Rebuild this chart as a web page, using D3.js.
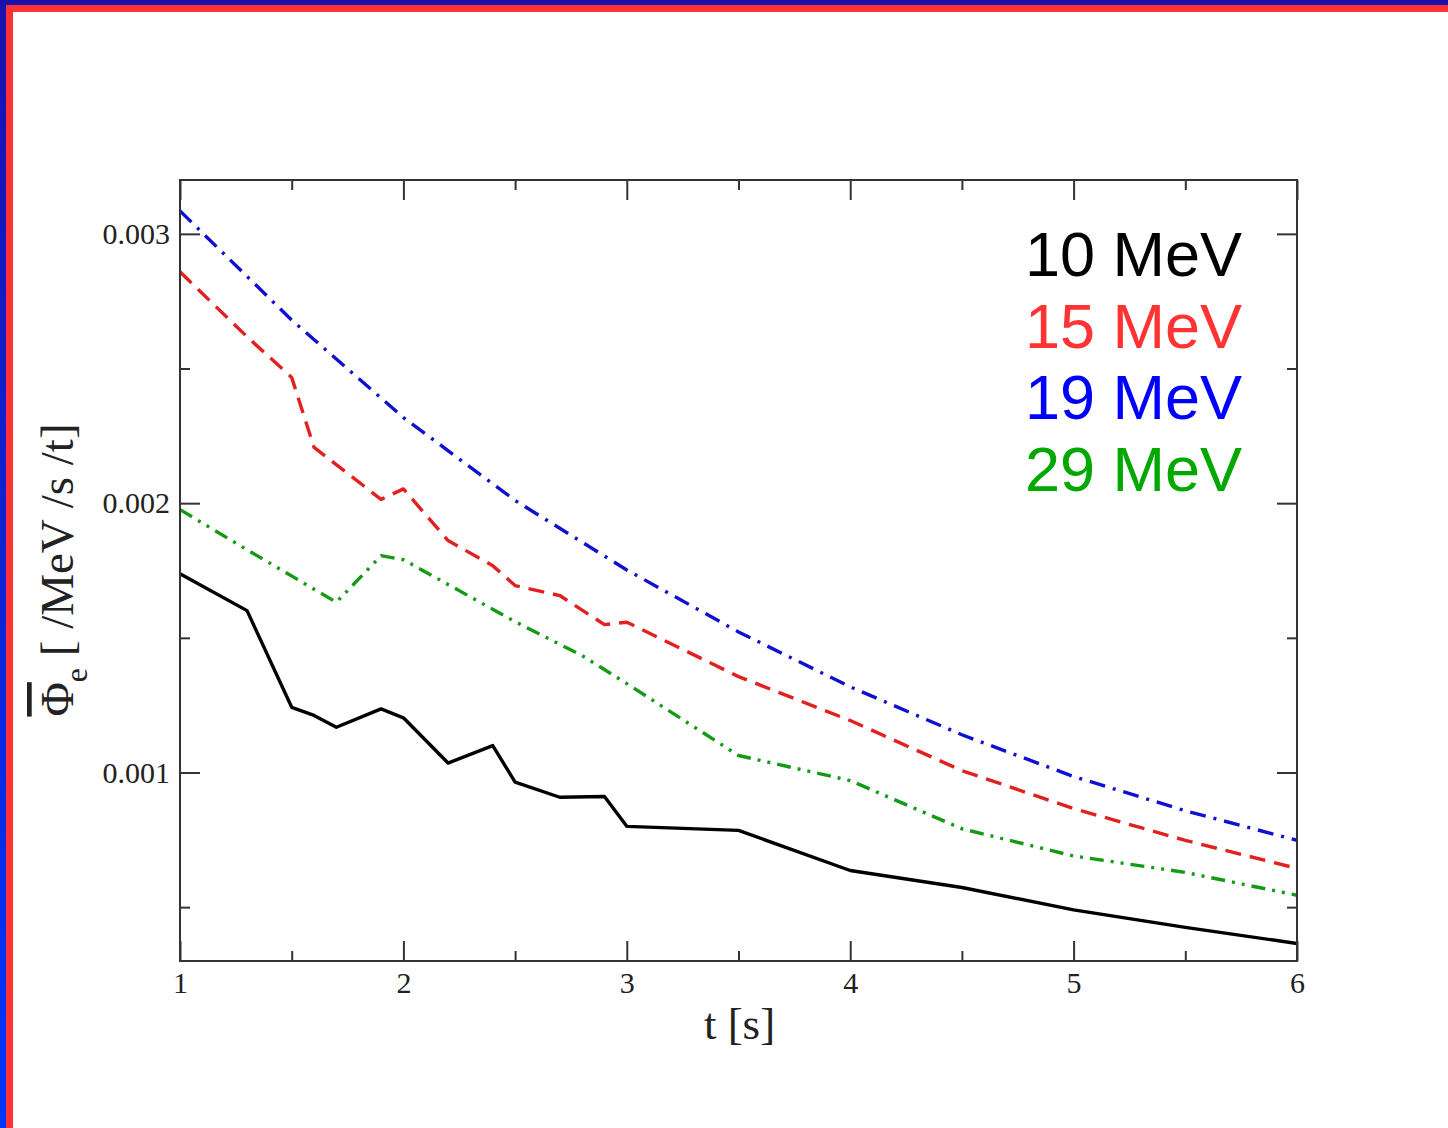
<!DOCTYPE html>
<html>
<head>
<meta charset="utf-8">
<script src="https://cdn.jsdelivr.net/npm/d3@7"></script>
<style>
  html, body { margin: 0; padding: 0; background: #fff; }
  svg { display: block; }
</style>
</head>
<body>
<svg id="chart" width="1448" height="1128"></svg>
<script>
// Time grid (s) for each energy, and the flux values read along them
const t10 = [1, 1.3, 1.5, 1.6, 1.7, 1.9, 2, 2.2, 2.4, 2.5, 2.7, 2.9, 3, 3.5, 4, 4.5, 5, 5.5, 6];
const flux10 = [0.001738, 0.001601, 0.001242, 0.001212, 0.001168, 0.001236, 0.001203, 0.001035, 0.001100,
                0.000964, 0.000908, 0.000911, 0.000800, 0.000785, 0.000636, 0.000573, 0.000490, 0.000425, 0.000365];

const t15 = [1, 1.3, 1.5, 1.6, 1.9, 2, 2.2, 2.4, 2.5, 2.7, 2.9, 3, 3.5, 4, 4.5, 5, 5.5, 6];
const flux15 = [0.002859, 0.002618, 0.002467, 0.002207, 0.002014, 0.002053, 0.001861, 0.001768, 0.001694,
                0.001657, 0.001549, 0.001558, 0.001356, 0.001193, 0.001007, 0.000866, 0.000748, 0.000644];

const t19 = [1, 1.5, 2, 2.5, 3, 3.5, 4, 4.5, 5, 5.5, 6];
const flux19 = [0.003085, 0.002680, 0.002318, 0.002010, 0.001752, 0.001522, 0.001318, 0.001140, 0.000985, 0.000858, 0.000748];

const t29 = [1, 1.3, 1.7, 1.9, 2, 2.5, 2.8, 3, 3.5, 4, 4.5, 5, 5.5, 6];
const flux29 = [0.001976, 0.001827, 0.001632, 0.001805, 0.001790, 0.001560, 0.001434, 0.001330, 0.001063,
                0.000970, 0.000791, 0.000690, 0.000629, 0.000544];

const seriesNames = ["10 MeV", "15 MeV", "19 MeV", "29 MeV"];
const xTickValues = [1, 2, 3, 4, 5, 6];
const xMinorValues = [1.5, 2.5, 3.5, 4.5, 5.5];
const yTickValues = [0.001, 0.002, 0.003];
const yMinorValues = [0.0005, 0.0015, 0.0025];

const svg = d3.select("#chart");
const W = 1448, H = 1128;

// Slide frame: blue outer band with a red inner band on the top and left edges
const defs = svg.append("defs");
const grad = defs.append("linearGradient").attr("id", "leftBlue")
  .attr("x1", 0).attr("y1", 0).attr("x2", 0).attr("y2", 1);
grad.append("stop").attr("offset", "0%").attr("stop-color", "#1a10ad");
grad.append("stop").attr("offset", "100%").attr("stop-color", "#0036ff");

svg.append("rect").attr("x", 0).attr("y", 0).attr("width", 6).attr("height", H).attr("fill", "url(#leftBlue)");
svg.append("rect").attr("x", 0).attr("y", 0).attr("width", W).attr("height", 5).attr("fill", "#1a10ad");
svg.append("rect").attr("x", 6).attr("y", 5).attr("width", W - 6).attr("height", 7).attr("fill", "#ff3333");
svg.append("rect").attr("x", 6).attr("y", 5).attr("width", 7).attr("height", H - 5).attr("fill", "#ff3333");

// Plot geometry
const plotL = 180, plotR = 1297, plotT = 180, plotB = 961;
const x = d3.scaleLinear().domain([1, 6]).range([plotL, plotR]);
const y = d3.scaleLinear().domain([0.0003, 0.0032]).range([plotB, plotT]);

const axisColor = "#333";
const serif = "'Liberation Serif', 'DejaVu Serif', serif";

// Curves (clipped to the plot box)
defs.append("clipPath").attr("id", "plotClip")
  .append("rect").attr("x", plotL).attr("y", plotT).attr("width", plotR - plotL).attr("height", plotB - plotT);

const line = d3.line().x(d => x(d[0])).y(d => y(d[1]));
const series = [
  { name: seriesNames[0], t: t10, v: flux10, color: "#000000", dash: null },
  { name: seriesNames[1], t: t15, v: flux15, color: "#e32020", dash: "16 9" },
  { name: seriesNames[2], t: t19, v: flux19, color: "#1010d0", dash: "16 8 3 8" },
  { name: seriesNames[3], t: t29, v: flux29, color: "#159a15", dash: "14 7 3 7 3 7" }
];

const curves = svg.append("g").attr("clip-path", "url(#plotClip)");
series.forEach(s => {
  curves.append("path")
    .datum(d3.zip(s.t, s.v))
    .attr("d", line)
    .attr("fill", "none")
    .attr("stroke", s.color)
    .attr("stroke-width", 3.4)
    .attr("stroke-linejoin", "round")
    .attr("stroke-dasharray", s.dash);
});

// Axes: ticks point inward on all four sides
function styleAxis(g) {
  g.select(".domain").remove();
  g.selectAll("line").attr("stroke", axisColor).attr("stroke-width", 2);
  g.selectAll("text").attr("fill", "#222").attr("font-family", serif).attr("font-size", 30);
}

svg.append("g").attr("transform", `translate(0,${plotB})`)
  .call(d3.axisBottom(x).tickValues(xTickValues).tickSize(-20).tickPadding(11).tickFormat(d3.format("d")))
  .call(styleAxis);
svg.append("g").attr("transform", `translate(0,${plotB})`)
  .call(d3.axisBottom(x).tickValues(xMinorValues).tickSize(-10).tickFormat(""))
  .call(styleAxis);
svg.append("g").attr("transform", `translate(0,${plotT})`)
  .call(d3.axisTop(x).tickValues(xTickValues).tickSize(-20).tickFormat(""))
  .call(styleAxis);
svg.append("g").attr("transform", `translate(0,${plotT})`)
  .call(d3.axisTop(x).tickValues(xMinorValues).tickSize(-10).tickFormat(""))
  .call(styleAxis);

svg.append("g").attr("transform", `translate(${plotL},0)`)
  .call(d3.axisLeft(y).tickValues(yTickValues).tickSize(-20).tickPadding(10).tickFormat(d3.format(".3f")))
  .call(styleAxis);
svg.append("g").attr("transform", `translate(${plotL},0)`)
  .call(d3.axisLeft(y).tickValues(yMinorValues).tickSize(-10).tickFormat(""))
  .call(styleAxis);
svg.append("g").attr("transform", `translate(${plotR},0)`)
  .call(d3.axisRight(y).tickValues(yTickValues).tickSize(-20).tickFormat(""))
  .call(styleAxis);
svg.append("g").attr("transform", `translate(${plotR},0)`)
  .call(d3.axisRight(y).tickValues(yMinorValues).tickSize(-10).tickFormat(""))
  .call(styleAxis);

// Plot box
svg.append("rect")
  .attr("x", plotL).attr("y", plotT).attr("width", plotR - plotL).attr("height", plotB - plotT)
  .attr("fill", "none").attr("stroke", axisColor).attr("stroke-width", 2);

// Axis titles
svg.append("text")
  .attr("x", (plotL + plotR) / 2 + 1).attr("y", 1039)
  .attr("text-anchor", "middle")
  .attr("font-family", serif).attr("font-size", 45).attr("fill", "#222")
  .text("t [s]");

const yTitle = svg.append("text")
  .attr("transform", "translate(73,570) rotate(-90)")
  .attr("text-anchor", "middle")
  .attr("font-family", serif).attr("font-size", 47).attr("fill", "#222");
yTitle.append("tspan").attr("text-decoration", "overline").style("text-decoration", "overline").text("Φ");
yTitle.append("tspan").attr("font-size", 32).attr("dy", 14).text("e");
yTitle.append("tspan").attr("dy", -14).text(" [ /MeV /s /t]");

// Legend: coloured labels, right-aligned
const legendColors = ["#000000", "#ff3333", "#0000ff", "#00a800"];
svg.append("g").selectAll("text")
  .data(seriesNames)
  .join("text")
  .attr("x", 1242)
  .attr("y", (d, i) => 276 + i * 71.5)
  .attr("text-anchor", "end")
  .attr("font-family", "'Liberation Sans', Arial, sans-serif")
  .attr("font-size", 63)
  .attr("fill", (d, i) => legendColors[i])
  .text(d => d);
</script>
</body>
</html>
